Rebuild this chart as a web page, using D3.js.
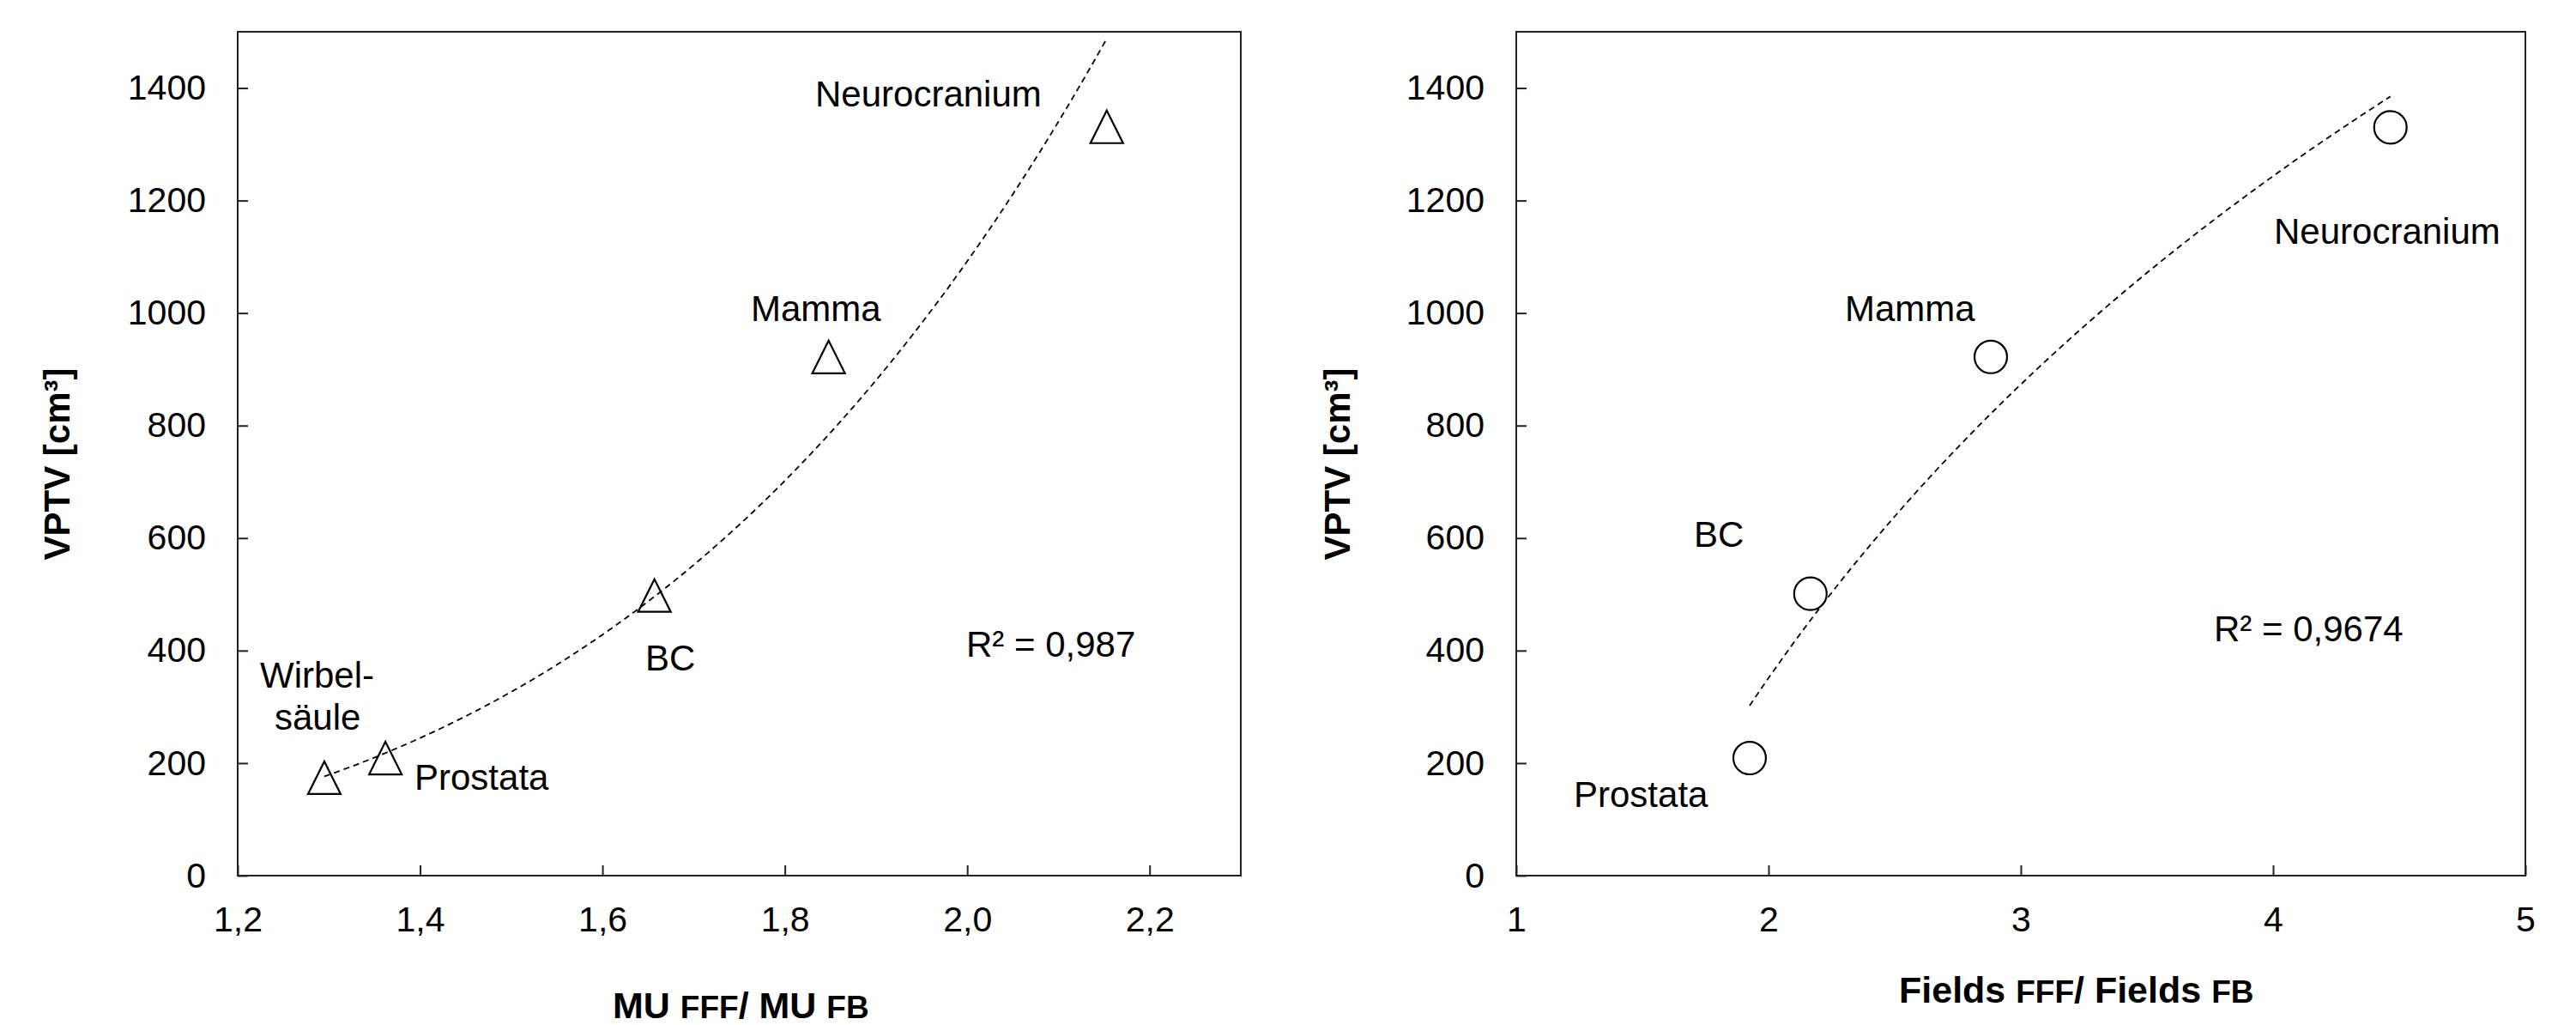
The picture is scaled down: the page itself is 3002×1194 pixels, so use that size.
<!DOCTYPE html>
<html>
<head>
<meta charset="utf-8">
<script src="https://cdn.jsdelivr.net/npm/d3@7"></script>
<style>
  body { margin: 0; background: #fff; }
  svg { display: block; }
</style>
</head>
<body>
<div id="figure"></div>
<script>
// Data
var organsMU = ["Wirbelsäule", "Prostata", "BC", "Mamma", "Neurocranium"];
var muRatio = [1.295, 1.362, 1.657, 1.848, 2.153];
var vptvMU = [174, 209, 498, 922, 1331];

var organsFields = ["Prostata", "BC", "Mamma", "Neurocranium"];
var fieldsRatio = [1.925, 2.166, 2.881, 4.465];
var vptvFields = [209, 501, 922, 1330];

var muTicks = [1.2, 1.4, 1.6, 1.8, 2.0, 2.2];
var fieldsTicks = [1, 2, 3, 4, 5];
var vptvTicks = [0, 200, 400, 600, 800, 1000, 1200, 1400];

var r2MU = "R² = 0,987";
var r2Fields = "R² = 0,9674";

var font_family = "'Liberation Sans', Arial, Helvetica, sans-serif";
var W = 3002, H = 1194;

var svg = d3.select("#figure").append("svg")
  .attr("width", W)
  .attr("height", H)
  .style("font-family", font_family);

var commaFmt = function(fmt) {
  var f = d3.format(fmt);
  return function(d) { return f(d).replace(".", ","); };
};

// Excel style triangle: box centred on the point, as tall as wide
var boxTriangle = {
  draw: function(context, size) {
    var h = Math.sqrt(size) / 2;
    context.moveTo(0, -h);
    context.lineTo(h, h);
    context.lineTo(-h, h);
    context.closePath();
  }
};

// Least squares on transformed values
function linfit(xs, ys) {
  var mx = d3.mean(xs), my = d3.mean(ys), sxy = 0, sxx = 0;
  for (var i = 0; i < xs.length; i++) {
    sxy += (xs[i] - mx) * (ys[i] - my);
    sxx += (xs[i] - mx) * (xs[i] - mx);
  }
  var b = sxy / sxx;
  return {slope: b, intercept: my - b * mx};
}

function panel(opt) {
  var x = d3.scaleLinear().domain(opt.xDomain).range([opt.left, opt.right]),
      y = d3.scaleLinear().domain([0, 1500]).range([opt.bottom, opt.top]);

  var g = svg.append("g");

  // axes, ticks pointing inward
  g.append("g")
    .attr("transform", "translate(0," + opt.bottom + ")")
    .call(d3.axisBottom(x).tickValues(opt.xTicks).tickFormat(opt.xFormat)
      .tickSizeInner(-12).tickSizeOuter(0).tickPadding(36))
    .call(function(a) {
      a.select(".domain").remove();
      a.selectAll("line").attr("stroke", "#222").attr("stroke-width", 2);
      a.selectAll("text").attr("font-size", 41).attr("fill", "#000")
        .attr("font-family", font_family);
    });

  g.append("g")
    .attr("transform", "translate(" + opt.left + ",0)")
    .call(d3.axisLeft(y).tickValues(vptvTicks).tickFormat(d3.format("d"))
      .tickSizeInner(-12).tickSizeOuter(0).tickPadding(37))
    .call(function(a) {
      a.select(".domain").remove();
      a.selectAll("line").attr("stroke", "#222").attr("stroke-width", 2);
      a.selectAll("text").attr("font-size", 41).attr("fill", "#000")
        .attr("font-family", font_family);
    });

  // frame
  g.append("rect")
    .attr("x", opt.left)
    .attr("y", opt.top)
    .attr("width", opt.right - opt.left)
    .attr("height", opt.bottom - opt.top)
    .attr("fill", "none")
    .attr("stroke", "#222")
    .attr("stroke-width", 2);

  // trend line, over the x range of the data
  var xs = d3.range(0, 201).map(function(i) {
    return opt.xs[0] + (d3.max(opt.xs) - opt.xs[0]) * i / 200;
  });
  g.append("path")
    .datum(xs)
    .attr("fill", "none")
    .attr("stroke", "#000")
    .attr("stroke-width", 1.8)
    .attr("stroke-dasharray", "7,5")
    .attr("d", d3.line()
      .x(function(d) { return x(d); })
      .y(function(d) { return y(opt.trend(d)); }));

  // markers
  var pts = opt.xs.map(function(d, i) { return [d, opt.ys[i]]; });
  var sym = d3.symbol().type(opt.symbol).size(opt.symbolSize);
  g.selectAll(".pt")
    .data(pts)
    .enter().append("path")
      .attr("class", "pt")
      .attr("transform", function(d) {
        return "translate(" + x(d[0]) + "," + y(d[1]) + ")";
      })
      .attr("d", sym)
      .attr("fill", "none")
      .attr("stroke", "#000")
      .attr("stroke-width", 2.2);

  // point labels
  g.selectAll(".lab")
    .data(opt.labels)
    .enter().append("text")
      .attr("class", "lab")
      .attr("x", function(d) { return d.x; })
      .attr("y", function(d) { return d.y; })
      .attr("font-size", 42)
      .text(function(d) { return d.t; });

  g.append("text")
    .attr("x", opt.r2x)
    .attr("y", opt.r2y)
    .attr("font-size", 42)
    .text(opt.r2);

  // axis titles
  g.append("text")
    .attr("transform", "translate(" + opt.yTitleX + "," + ((opt.top + opt.bottom) / 2 + 12) + ") rotate(-90)")
    .attr("text-anchor", "middle")
    .attr("dy", "0.35em")
    .attr("font-size", 42)
    .attr("font-weight", "bold")
    .text("VPTV [cm³]");

  var xt = g.append("text")
    .attr("x", opt.xTitleX)
    .attr("y", opt.xTitleY)
    .attr("font-weight", "bold")
    .attr("font-size", 43);
  xt.append("tspan").text(opt.xWord + " ");
  xt.append("tspan").attr("font-size", 37).text("FFF");
  xt.append("tspan").text("/ " + opt.xWord + " ");
  xt.append("tspan").attr("font-size", 37).text("FB");
}

// left: power trend
var fitPow = linfit(muRatio.map(Math.log), vptvMU.map(Math.log));
panel({
  left: 277, right: 1446, top: 37, bottom: 1020,
  xDomain: [1.2, 2.3], xTicks: muTicks, xFormat: commaFmt(".1f"),
  xs: muRatio, ys: vptvMU,
  trend: function(v) { return Math.exp(fitPow.intercept) * Math.pow(v, fitPow.slope); },
  symbol: boxTriangle, symbolSize: 38 * 38,
  labels: [
    {t: "Wirbel-", x: 303, y: 801},
    {t: "säule", x: 320, y: 850},
    {t: "Prostata", x: 483, y: 920},
    {t: "BC", x: 752, y: 781},
    {t: "Mamma", x: 875, y: 374},
    {t: "Neurocranium", x: 950, y: 124}
  ],
  r2: r2MU, r2x: 1126, r2y: 765,
  yTitleX: 66,
  xWord: "MU", xTitleX: 714, xTitleY: 1186
});

// right: logarithmic trend
var fitLog = linfit(fieldsRatio.map(Math.log), vptvFields);
panel({
  left: 1767, right: 2943, top: 37, bottom: 1020,
  xDomain: [1, 5], xTicks: fieldsTicks, xFormat: d3.format("d"),
  xs: fieldsRatio, ys: vptvFields,
  trend: function(v) { return fitLog.intercept + fitLog.slope * Math.log(v); },
  symbol: d3.symbolCircle, symbolSize: 1130,
  labels: [
    {t: "Prostata", x: 1834, y: 940},
    {t: "BC", x: 1974, y: 637},
    {t: "Mamma", x: 2150, y: 374},
    {t: "Neurocranium", x: 2650, y: 284}
  ],
  r2: r2Fields, r2x: 2580, r2y: 747,
  yTitleX: 1558,
  xWord: "Fields", xTitleX: 2213, xTitleY: 1168
});
</script>
</body>
</html>
